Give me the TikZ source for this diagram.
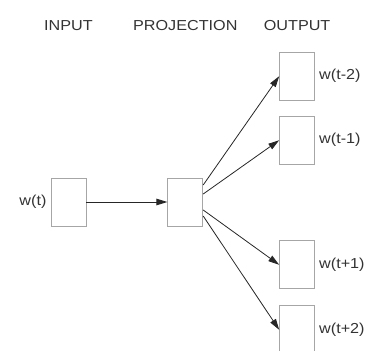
\documentclass[tikz,border=0pt]{standalone}
\usepackage{fontspec}
\setmainfont{Liberation Sans}[FakeStretch=1.12]
\usetikzlibrary{arrows.meta,positioning}

\begin{document}
\begin{tikzpicture}[
  x=1bp, y=1bp,
  font=\fontsize{14.5}{17}\selectfont,
  unit/.style={draw=black!35, line width=0.8bp, minimum width=35bp, minimum height=48bp, inner sep=0pt},
  lbl/.style={text=black!80, inner sep=0pt},
  flow/.style={draw=black!85, line width=0.8bp, -{Triangle[length=11bp,width=6.5bp]}},
  node distance=4bp
]
  \useasboundingbox (0,0) rectangle (368,-351);

  % input word and its projection
  \node[unit] (in) at (68.5,-202) {};
  \node[unit, right=81bp of in] (proj) {};

  % context words around it
  \node[unit, above right=77bp and 76bp of proj.north east, anchor=south west] (outA) {};
  \node[unit, above right=13bp and 76bp of proj.north east, anchor=south west] (outB) {};
  \node[unit, below right=14bp and 76bp of proj.south east, anchor=north west] (outC) {};
  \node[unit, below right=79bp and 76bp of proj.south east, anchor=north west] (outD) {};

  % column headings
  \node[lbl, above=21bp of outA] (hout) {OUTPUT};
  \node[lbl] (hproj) at (proj |- hout) {PROJECTION};
  \node[lbl] (hin) at (in |- hout) {INPUT};

  % word labels
  \node[lbl, left=of in] (win) {w(t)};
  \node[lbl, right=of outA] (wA) {w(t-2)};
  \node[lbl, right=of outB] (wB) {w(t-1)};
  \node[lbl, right=of outC] (wC) {w(t+1)};
  \node[lbl, right=of outD] (wD) {w(t+2)};

  \draw[flow] (in.east) -- (proj.west);
  \draw[flow] ([yshift=17bp]proj.east) -- (outA.west);
  \draw[flow] ([yshift=8bp]proj.east) -- (outB.west);
  \draw[flow] ([yshift=-8bp]proj.east) -- (outC.west);
  \draw[flow] ([yshift=-14bp]proj.east) -- (outD.west);
\end{tikzpicture}
\end{document}
